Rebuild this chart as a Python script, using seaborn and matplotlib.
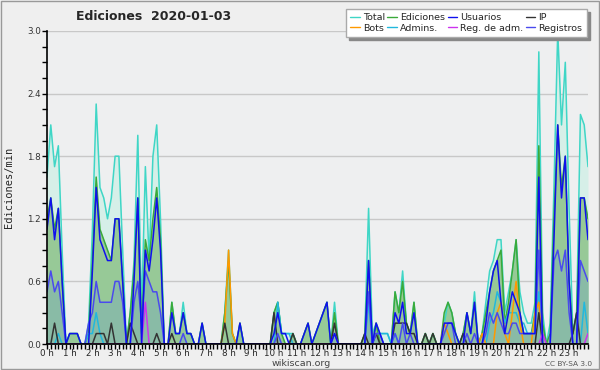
import numpy as np
import pandas as pd
import matplotlib
matplotlib.use("Agg")
from matplotlib import pyplot as plt
from matplotlib.patches import Rectangle
import seaborn as sns

# edits per minute, 10-minute bins (6 per hour, 24 hours)
total = [
    1.6, 2.1, 1.7, 1.9, 0.9, 0.0,  0.1, 0.1, 0.1, 0.0, 0.0, 0.2,
    1.1, 2.3, 1.5, 1.4, 1.2, 1.4,  1.8, 1.8, 0.9, 0.0, 0.3, 0.8,
    2.0, 0.3, 1.7, 0.8, 1.8, 2.1,  1.2, 0.0, 0.0, 0.4, 0.1, 0.1,
    0.4, 0.1, 0.1, 0.0, 0.0, 0.2,  0.0, 0.0, 0.0, 0.0, 0.0, 0.3,
    0.9, 0.1, 0.0, 0.2, 0.0, 0.0,  0.0, 0.0, 0.0, 0.0, 0.0, 0.0,
    0.3, 0.4, 0.1, 0.1, 0.1, 0.1,  0.0, 0.0, 0.1, 0.2, 0.0, 0.1,
    0.2, 0.3, 0.4, 0.0, 0.4, 0.0,  0.0, 0.0, 0.0, 0.0, 0.0, 0.0,
    0.1, 1.3, 0.1, 0.2, 0.1, 0.1,  0.1, 0.0, 0.5, 0.3, 0.7, 0.2,
    0.1, 0.4, 0.0, 0.0, 0.1, 0.0,  0.1, 0.0, 0.0, 0.2, 0.4, 0.3,
    0.1, 0.0, 0.1, 0.3, 0.1, 0.5,  0.0, 0.1, 0.4, 0.7, 0.8, 1.0,
    1.0, 0.3, 0.5, 0.7, 1.0, 0.5,  0.3, 0.2, 0.2, 0.4, 2.8, 0.3,
    0.0, 0.2, 1.5, 3.0, 2.1, 2.7,  1.3, 0.1, 0.3, 2.2, 2.1, 1.7,
]
ediciones = [
    1.2, 1.4, 1.1, 1.3, 0.6, 0.0,  0.1, 0.1, 0.1, 0.0, 0.0, 0.1,
    0.8, 1.6, 1.1, 1.0, 0.9, 0.8,  1.2, 1.2, 0.6, 0.0, 0.3, 0.7,
    1.4, 0.1, 1.0, 0.8, 1.2, 1.5,  1.0, 0.0, 0.0, 0.4, 0.1, 0.1,
    0.3, 0.1, 0.1, 0.0, 0.0, 0.2,  0.0, 0.0, 0.0, 0.0, 0.0, 0.3,
    0.8, 0.1, 0.0, 0.2, 0.0, 0.0,  0.0, 0.0, 0.0, 0.0, 0.0, 0.0,
    0.3, 0.4, 0.1, 0.0, 0.0, 0.1,  0.0, 0.0, 0.1, 0.2, 0.0, 0.1,
    0.2, 0.3, 0.4, 0.0, 0.3, 0.0,  0.0, 0.0, 0.0, 0.0, 0.0, 0.0,
    0.1, 0.8, 0.0, 0.2, 0.0, 0.0,  0.0, 0.0, 0.5, 0.3, 0.6, 0.2,
    0.1, 0.4, 0.0, 0.0, 0.1, 0.0,  0.1, 0.0, 0.0, 0.3, 0.4, 0.3,
    0.1, 0.0, 0.1, 0.3, 0.1, 0.4,  0.0, 0.1, 0.3, 0.5, 0.7, 0.8,
    0.9, 0.2, 0.4, 0.7, 1.0, 0.3,  0.1, 0.1, 0.1, 0.3, 1.9, 0.2,
    0.0, 0.1, 1.2, 2.1, 1.5, 1.8,  0.6, 0.1, 0.3, 1.4, 1.4, 1.2,
]
usuarios = [
    1.1, 1.4, 1.0, 1.3, 0.6, 0.0,  0.1, 0.1, 0.1, 0.0, 0.0, 0.0,
    0.7, 1.5, 1.0, 0.9, 0.8, 0.8,  1.2, 1.2, 0.6, 0.0, 0.0, 0.6,
    1.4, 0.0, 0.9, 0.7, 1.0, 1.4,  0.9, 0.0, 0.0, 0.3, 0.1, 0.1,
    0.3, 0.1, 0.1, 0.0, 0.0, 0.2,  0.0, 0.0, 0.0, 0.0, 0.0, 0.0,
    0.0, 0.0, 0.0, 0.2, 0.0, 0.0,  0.0, 0.0, 0.0, 0.0, 0.0, 0.0,
    0.1, 0.3, 0.1, 0.1, 0.0, 0.0,  0.0, 0.0, 0.1, 0.2, 0.0, 0.1,
    0.2, 0.3, 0.4, 0.0, 0.1, 0.0,  0.0, 0.0, 0.0, 0.0, 0.0, 0.0,
    0.0, 0.8, 0.0, 0.2, 0.1, 0.0,  0.0, 0.0, 0.3, 0.2, 0.4, 0.1,
    0.1, 0.3, 0.0, 0.0, 0.0, 0.0,  0.0, 0.0, 0.0, 0.2, 0.2, 0.2,
    0.1, 0.0, 0.0, 0.3, 0.1, 0.4,  0.0, 0.0, 0.2, 0.5, 0.7, 0.8,
    0.4, 0.1, 0.3, 0.5, 0.4, 0.3,  0.1, 0.1, 0.1, 0.1, 1.6, 0.0,
    0.0, 0.0, 1.0, 2.1, 1.4, 1.8,  0.6, 0.0, 0.0, 1.4, 1.4, 1.0,
]
ip = [
    0.0, 0.0, 0.2, 0.0, 0.0, 0.0,  0.0, 0.0, 0.0, 0.0, 0.0, 0.0,
    0.0, 0.1, 0.1, 0.1, 0.0, 0.2,  0.0, 0.0, 0.0, 0.0, 0.2, 0.1,
    0.0, 0.0, 0.0, 0.0, 0.0, 0.1,  0.0, 0.0, 0.0, 0.1, 0.0, 0.0,
    0.0, 0.0, 0.0, 0.0, 0.0, 0.0,  0.0, 0.0, 0.0, 0.0, 0.0, 0.2,
    0.0, 0.0, 0.0, 0.0, 0.0, 0.0,  0.0, 0.0, 0.0, 0.0, 0.0, 0.0,
    0.3, 0.0, 0.0, 0.0, 0.0, 0.1,  0.0, 0.0, 0.0, 0.0, 0.0, 0.0,
    0.0, 0.0, 0.0, 0.0, 0.2, 0.0,  0.0, 0.0, 0.0, 0.0, 0.0, 0.0,
    0.1, 0.0, 0.0, 0.1, 0.0, 0.0,  0.0, 0.0, 0.2, 0.2, 0.2, 0.2,
    0.1, 0.1, 0.0, 0.0, 0.1, 0.0,  0.1, 0.0, 0.0, 0.0, 0.0, 0.0,
    0.0, 0.0, 0.1, 0.0, 0.0, 0.0,  0.0, 0.0, 0.0, 0.0, 0.0, 0.0,
    0.0, 0.0, 0.0, 0.0, 0.0, 0.0,  0.0, 0.0, 0.0, 0.0, 0.3, 0.0,
    0.0, 0.0, 0.0, 0.0, 0.0, 0.0,  0.0, 0.1, 0.3, 0.0, 0.0, 0.0,
]
bots = [0.0] * 144
for i, v in [(47, 0.2), (48, 0.9), (49, 0.1), (105, 0.2), (106, 0.1), (115, 0.1),
             (119, 0.3), (120, 0.4), (121, 0.1), (123, 0.3), (124, 0.6), (125, 0.2),
             (129, 0.3), (130, 0.4)]:
    bots[i] = v
admins = [0.0] * 144
for i, v in [(3, 0.1), (11, 0.1), (12, 0.1), (13, 0.3), (14, 0.1), (61, 0.4), (62, 0.1),
             (63, 0.1), (64, 0.1), (85, 0.4), (87, 0.1), (88, 0.1), (89, 0.1), (90, 0.1),
             (92, 0.1), (117, 0.2), (118, 0.3), (119, 0.5), (120, 0.4), (121, 0.2),
             (122, 0.3), (123, 0.3), (124, 0.3), (125, 0.2), (126, 0.2), (127, 0.1),
             (128, 0.1), (129, 0.2), (130, 0.5), (142, 0.4), (143, 0.1)]:
    admins[i] = v
reg_adm = [0.0] * 144
for i, v in [(26, 0.4), (131, 0.1), (143, 0.1)]:
    reg_adm[i] = v
registros = [
    0.5, 0.7, 0.5, 0.6, 0.3, 0.0,  0.0, 0.0, 0.0, 0.0, 0.0, 0.2,
    0.3, 0.6, 0.4, 0.4, 0.4, 0.4,  0.6, 0.6, 0.4, 0.0, 0.0, 0.4,
    0.6, 0.2, 0.7, 0.6, 0.5, 0.5,  0.3, 0.0, 0.0, 0.0, 0.0, 0.0,
    0.1, 0.0, 0.0, 0.0, 0.0, 0.0,  0.0, 0.0, 0.0, 0.0, 0.0, 0.0,
    0.0, 0.0, 0.0, 0.0, 0.0, 0.0,  0.0, 0.0, 0.0, 0.0, 0.0, 0.0,
    0.0, 0.1, 0.0, 0.0, 0.0, 0.0,  0.0, 0.0, 0.0, 0.0, 0.0, 0.0,
    0.0, 0.0, 0.0, 0.0, 0.1, 0.0,  0.0, 0.0, 0.0, 0.0, 0.0, 0.0,
    0.0, 0.5, 0.0, 0.1, 0.1, 0.0,  0.0, 0.0, 0.1, 0.0, 0.2, 0.0,
    0.1, 0.0, 0.0, 0.0, 0.0, 0.0,  0.0, 0.0, 0.0, 0.1, 0.2, 0.2,
    0.0, 0.0, 0.0, 0.1, 0.0, 0.1,  0.0, 0.0, 0.1, 0.3, 0.2, 0.3,
    0.2, 0.1, 0.1, 0.2, 0.2, 0.1,  0.1, 0.1, 0.1, 0.1, 0.9, 0.0,
    0.0, 0.0, 0.8, 0.9, 0.7, 0.9,  0.3, 0.0, 0.0, 0.8, 0.7, 0.6,
]
hour_labels = [f"{h} h" for h in range(24)]

df = pd.DataFrame({
    "bin": np.arange(144),
    "Total": total, "Ediciones": ediciones, "Usuarios": usuarios, "IP": ip,
    "Bots": bots, "Admins.": admins, "Reg. de adm.": reg_adm, "Registros": registros,
})

sns.set_style("ticks")
plt.rcParams["font.family"] = ["DejaVu Sans"]

bg = "#eeeff0"
fig = plt.figure(figsize=(6, 3.7), dpi=100, facecolor="#efefef")
ax = fig.add_axes([47 / 600, 26 / 370, 541 / 600, 313 / 370])
ax.set_facecolor(bg)

# filled areas
ax.fill_between(df["bin"], df["Total"], color="#d6efe8", lw=0, zorder=1)
ax.fill_between(df["bin"], df["Ediciones"], color="#97c997", lw=0, zorder=2)
ax.fill_between(df["bin"], df["Registros"], color="#89bba6", lw=0, zorder=3)

colors = {
    "Total": "#3fd6c6", "Ediciones": "#3aaa3a", "Admins.": "#22b8dd", "Bots": "#ff9900",
    "IP": "#333333", "Registros": "#4a4aee", "Reg. de adm.": "#cc33ee", "Usuarios": "#1010ee",
}
for z, name in enumerate(["Total", "Ediciones", "Admins.", "Bots", "IP", "Registros",
                          "Reg. de adm.", "Usuarios"]):
    sns.lineplot(data=df, x="bin", y=name, color=colors[name], linewidth=1.1,
                 label=name, ax=ax, zorder=5 + z)

ax.set_xlim(0, 143)
ax.set_ylim(0, 3.0)
ax.set_xticks(range(0, 144, 6))
ax.set_xticklabels(hour_labels, fontsize=6.3)
ax.set_xticks(range(144), minor=True)
ax.set_yticks([0.0, 0.6, 1.2, 1.8, 2.4, 3.0])
ax.set_yticklabels(["0.0", "0.6", "1.2", "1.8", "2.4", "3.0"], fontsize=6.3, color="#333333")
ax.set_yticks(np.arange(0, 3.01, 0.15), minor=True)
ax.tick_params(axis="both", which="both", direction="out", length=3.5, width=1, color="black", pad=1)
ax.tick_params(axis="x", which="major", pad=0)
ax.yaxis.grid(True, color="#c8c8c8", lw=1)
ax.set_axisbelow(True)
for s in ["top", "right"]:
    ax.spines[s].set_visible(False)
for s in ["left", "bottom"]:
    ax.spines[s].set_color("black")
    ax.spines[s].set_linewidth(1.2)
    ax.spines[s].set_zorder(20)
ax.set_xlabel("")
ax.set_ylabel("Ediciones/min", fontsize=7.5, family="DejaVu Sans Mono", labelpad=9)

handles, labels = ax.get_legend_handles_labels()
lookup = dict(zip(labels, handles))
order = ["Total", "Bots", "Ediciones", "Admins.", "Usuarios", "Reg. de adm.", "IP", "Registros"]
leg = ax.legend([lookup[k] for k in order], order, ncol=4, fontsize=6.8,
                loc="upper left", bbox_to_anchor=(346 / 600, 361 / 370),
                bbox_transform=fig.transFigure, frameon=True, fancybox=False,
                shadow={"color": "#888888", "alpha": 1}, handlelength=1.0,
                handletextpad=0.35, columnspacing=0.25, labelspacing=0.15,
                borderpad=0.45, borderaxespad=0)
leg.get_frame().set_facecolor("white")
leg.get_frame().set_edgecolor("#aaaaaa")
leg.get_frame().set_alpha(1)
leg.set_zorder(30)
for line in leg.get_lines():
    line.set_linewidth(1.0)

fig.text(154 / 600, 353 / 370, "Ediciones  2020-01-03", ha="center", va="center",
         fontsize=9, fontweight="bold")
fig.text(301 / 600, 6 / 370, "wikiscan.org", ha="center", va="center", fontsize=6.8, color="#444444")
fig.text(569 / 600, 6 / 370, "CC BY-SA 3.0", ha="center", va="center", fontsize=5.3, color="#555555")
fig.patches.append(Rectangle((0.001, 0.002), 0.997, 0.996, transform=fig.transFigure,
                             fill=False, edgecolor="#999999", lw=1))

fig.savefig("out.png", dpi=100, facecolor=fig.get_facecolor())
